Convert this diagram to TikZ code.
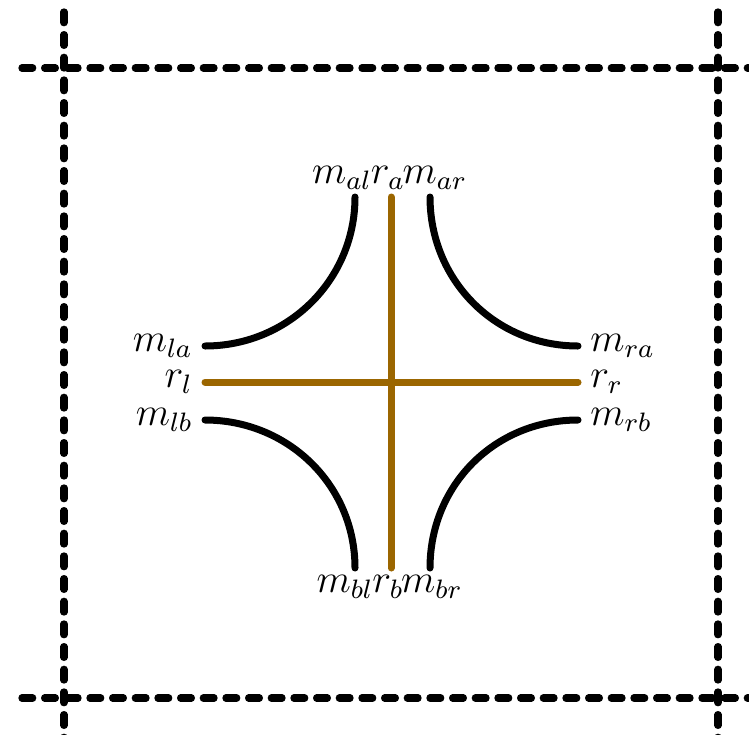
\documentclass[tikz,border=0pt]{standalone}
\usepackage{amsfonts}
\usepackage{amssymb, amsmath}
\usepackage{tikz}
\usepackage{xcolor}
\usetikzlibrary{positioning}
\definecolor{roadbrown}{RGB}{155,102,0}

\begin{document}
\begin{tikzpicture}[x=0.3pt,y=0.3pt,yscale=-1,xscale=1,
	grid/.style={line width=2.2pt,dash pattern=on 3.2pt off 3.6pt,line cap=round},
	wall/.style={line width=2.1pt,line cap=round},
	road/.style={line width=2.1pt,line cap=round,draw=roadbrown},
	lbl/.style={inner sep=0pt,font=\large}]
				\useasboundingbox (0,0) rectangle (749,734);
				% cell borders
				\draw[grid] (64,12) -- (64,745);
				\draw[grid] (718,12) -- (718,745);
				\draw[grid] (22,68) -- (760,68);
				\draw[grid] (22,698) -- (760,698);
				% end points
				\coordinate (mal) at (355,197);
				\coordinate (ra) at (391,197);
				\coordinate (mar) at (430,197);
				\coordinate (mla) at (205,346);
				\coordinate (rl) at (205,382);
				\coordinate (mlb) at (205,420);
				\coordinate (mra) at (578,346);
				\coordinate (rr) at (578,382);
				\coordinate (mrb) at (578,420);
				\coordinate (mbl) at (355,568);
				\coordinate (rb) at (391,568);
				\coordinate (mbr) at (430,568);
				% walls
				\draw[wall] (mal) .. controls +(0,83) and +(83,0) .. (mla);
				\draw[wall] (mar) .. controls +(0,83) and +(-83,0) .. (mra);
				\draw[wall] (mbl) .. controls +(0,-83) and +(83,0) .. (mlb);
				\draw[wall] (mbr) .. controls +(0,-83) and +(-83,0) .. (mrb);
				% roads
				\draw[road] (ra) -- (rb);
				\draw[road] (rl) -- (rr);
				% labels
				\node[lbl,left=3.5pt of mla] (tmla) {$m_{la}$};
				\node[lbl,left=3.5pt of rl] (trl) {$r_{l}$};
				\node[lbl,left=3.5pt of mlb] (tmlb) {$m_{lb}$};
				\node[lbl,right=3.5pt of mra] (tmra) {$m_{ra}$};
				\node[lbl,right=3.5pt of rr] (trr) {$r_{r}$};
				\node[lbl,right=3.5pt of mrb] (tmrb) {$m_{rb}$};
				\node[lbl,anchor=base] (tmal) at (342,183) {$m_{al}$};
				\node[lbl,anchor=base] (tra) at (388,183) {$r_{a}$};
				\node[lbl,anchor=base] (tmar) at (435,183) {$m_{ar}$};
				\node[lbl,anchor=base] (tmbl) at (345,592) {$m_{bl}$};
				\node[lbl,anchor=base] (trb) at (388,592) {$r_{b}$};
				\node[lbl,anchor=base] (tmbr) at (432,592) {$m_{br}$};
			\end{tikzpicture}
\end{document}
